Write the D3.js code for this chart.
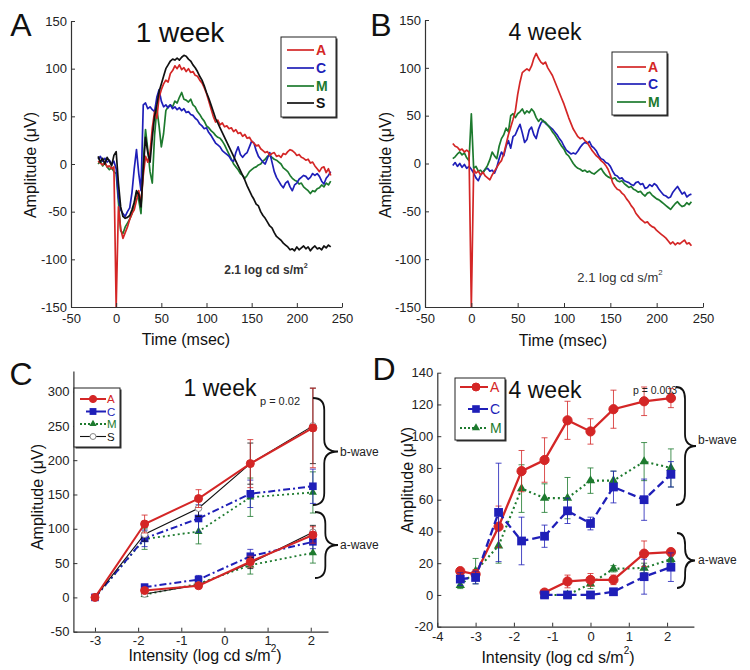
<!DOCTYPE html>
<html><head><meta charset="utf-8">
<script src="https://cdn.jsdelivr.net/npm/d3@7"></script>
<style>body{margin:0;background:#fff}svg{display:block}text{font-family:"Liberation Sans",Arial,sans-serif}</style>
</head><body><svg id="c" width="750" height="670"></svg>
<script>
// ---------- DATA ----------
// ERG traces sampled every 2.5 ms starting at -20 ms
const traceStart = -20, traceStep = 2.5;
const wk1_A = [3,1,-1,2,-3,-2,-5,-3,-150,-45,-68,-78,-72,-66,-58,-52,-48,-38,-28,-42,-12,8,2,12,38,55,48,70,78,84,88,86,95,98,103,100,104,99,101,97,100,96,97,93,92,88,85,80,74,66,58,50,44,46,41,43,39,40,37,38,34,36,32,33,29,31,27,28,24,22,19,20,16,14,12,13,9,11,12,8,9,7,11,10,13,15,14,12,9,10,7,6,4,5,1,2,-2,-5,-8,-4,-3,-9,-5,-12];
const wk1_C = [5,8,3,6,2,4,0,3,-5,-35,-48,-52,-55,-50,-46,-30,-5,15,-10,-28,62,64,58,60,57,55,70,78,66,60,62,59,62,58,60,57,59,56,58,54,55,52,51,48,46,42,40,37,38,33,30,26,22,20,18,14,12,10,8,4,3,12,18,10,7,10,12,18,24,22,14,8,5,2,0,6,12,2,-8,-14,-18,-22,-25,-20,-18,-24,-28,-22,-20,-16,-14,-12,-13,-16,-14,-10,-12,-10,-13,-18,-21,-15,-12,-8];
const wk1_M = [0,3,-2,1,-3,-6,-4,-8,-10,-40,-70,-73,-66,-62,-58,-52,-42,-30,-38,-52,2,36,15,-8,-20,30,58,40,18,32,56,60,62,60,66,64,70,75,68,67,65,68,62,60,55,52,48,45,40,38,35,33,30,28,27,24,20,15,10,5,0,-3,-6,-10,-12,-15,-12,-8,-6,-4,-3,-1,0,3,5,8,9,7,5,4,2,0,-4,-6,-8,-12,-15,-17,-18,-21,-20,-24,-26,-28,-31,-28,-29,-26,-25,-22,-24,-20,-22,-18];
const wk1_S = [8,2,6,0,7,3,-2,9,13,-20,-45,-55,-57,-56,-54,-48,-40,-28,-32,-45,-5,28,12,2,28,50,62,76,84,92,100,104,108,110,109,111,109,112,114,113,110,108,104,101,97,92,88,82,75,69,62,55,48,43,38,33,28,23,18,13,8,3,-2,-7,-12,-17,-23,-28,-33,-37,-42,-44,-50,-54,-57,-61,-65,-67,-72,-76,-78,-80,-83,-85,-87,-90,-89,-91,-87,-90,-88,-86,-89,-87,-91,-88,-86,-89,-88,-90,-86,-88,-85,-87];
const wk4_A = [21,18,17,14,15,12,14,12,-150,-6,-10,-8,-12,-9,-13,-15,-17,-12,-8,-4,0,3,10,20,30,38,46,55,72,85,95,97,99,97,102,110,115,110,106,104,106,100,96,92,86,80,74,68,62,55,48,42,36,32,28,26,27,24,22,18,14,11,8,6,3,1,-2,-6,-12,-20,-24,-27,-28,-31,-33,-37,-40,-44,-47,-52,-55,-58,-60,-62,-61,-64,-66,-67,-70,-72,-74,-76,-78,-81,-84,-82,-85,-83,-84,-82,-80,-84,-83,-86];
const wk4_C = [-2,1,-3,0,-4,-1,-5,-3,-6,-10,-15,-18,-12,-9,-6,-5,-8,-7,-10,-4,5,12,8,18,24,16,28,30,36,41,32,22,25,35,38,30,26,36,42,45,42,40,38,36,33,30,26,23,18,14,12,10,11,10,13,17,20,22,21,23,18,16,13,8,5,4,1,0,-3,-8,-12,-13,-16,-15,-18,-19,-20,-22,-23,-20,-19,-22,-21,-26,-25,-22,-24,-21,-23,-27,-30,-33,-34,-36,-35,-30,-27,-24,-28,-32,-30,-35,-33,-32];
const wk4_M = [5,7,10,12,9,11,6,3,52,-5,-3,-8,-7,-10,-6,-2,4,12,8,5,18,26,30,37,33,50,52,48,52,54,57,52,55,53,57,54,48,44,47,44,43,40,37,33,30,26,22,18,15,10,8,4,0,-3,-5,-6,-8,-7,-9,-8,-10,-11,-9,-7,-5,-9,-12,-14,-15,-16,-15,-18,-19,-18,-21,-23,-25,-24,-27,-28,-30,-29,-32,-34,-31,-30,-33,-35,-37,-38,-40,-42,-44,-46,-48,-45,-42,-40,-43,-45,-44,-41,-43,-40];

const traceXTicks = [-50,0,50,100,150,200,250];
const traceYTicks = [-150,-100,-50,0,50,100,150];

// Intensity-response, 1 week (panel C)
const intensC_b = [-3,-1.85,-0.6,0.6,2.05];
const intensC_a = [-1.85,-0.6,0.6,2.05];
const cB_A = [0,107,144,195,247], cB_A_err = [0,13,13,35,58];
const cB_C = [0,86,115,151,162],  cB_C_err = [0,12,20,20,25];
const cB_M = [0,85,96,146,153],   cB_M_err = [0,15,18,28,30];
const cB_S = [0,92,130,195,250],  cB_S_err = [0,10,12,30,55];
const cA_A = [10,17,52,91], cA_A_err = [3,3,8,12];
const cA_C = [15,26,60,81], cA_C_err = [4,6,10,10];
const cA_M = [4,20,47,65],  cA_M_err = [3,5,13,15];
const cA_S = [5,18,50,95],  cA_S_err = [3,3,8,10];
const cXTicks = [-3,-2,-1,0,1,2];
const cYTicks = [-50,0,50,100,150,200,250,300];

// Intensity-response, 4 week (panel D)
const intensD_b = [-3.4,-3.0,-2.4,-1.8,-1.2,-0.6,0,0.6,1.4,2.1];
const intensD_a = [-1.2,-0.6,0,0.6,1.4,2.1];
const dB_A = [15,13,43,78,85,110,103,117,122,124], dB_A_err = [2,3,13,13,14,12,8,12,9,6];
const dB_C = [10,11,52,34,37,53,45,68,60,76],      dB_C_err = [4,4,31,15,7,8,4,10,13,8];
const dB_M = [6,15,31,67,61,61,72,72,84,80],       dB_M_err = [2,8,11,15,9,13,8,6,12,12];
const dA_A = [1.5,8.5,9.5,9.5,26,27], dA_A_err = [1,4,4,3,8,2];
const dA_C = [0,0,0,2,11.5,17.5],     dA_C_err = [0,0,1,2,11,9];
const dA_M = [0,0,7,16.5,17,22.5],    dA_M_err = [0,0,3,2,3,2];
const dXTicks = [-4,-3,-2,-1,0,1,2];
const dYTicks = [-20,0,20,40,60,80,100,120,140];

// ---------- STYLE ----------
const COL = {A:"#d42626", C:"#1f1fb8", M:"#1d7a2e", S:"#111111"};
const svg = d3.select("#c");
const FONT = "Liberation Sans, Arial, sans-serif";
const LETTER = "Lato, DejaVu Sans, sans-serif";

function axes(g, x, y, xt, yt, xpad=4) {
  const ax = g.append("g").attr("transform",`translate(0,${y.range()[0]})`)
    .call(d3.axisBottom(x).tickValues(xt).tickSizeInner(-4).tickSizeOuter(0).tickPadding(xpad).tickFormat(d=>String(d)));
  const ay = g.append("g").attr("transform",`translate(${x.range()[0]},0)`)
    .call(d3.axisLeft(y).tickValues(yt).tickSizeInner(-4).tickSizeOuter(0).tickPadding(4).tickFormat(d=>String(d)));
  [ax,ay].forEach(a=>{
    a.selectAll("text").attr("font-size",13).attr("font-family",FONT).attr("fill","#222");
    a.select(".domain").attr("stroke","#333").attr("stroke-width",1.2);
    a.selectAll(".tick line").attr("stroke","#333");
  });
}
function text(g, x, y, s, size, opt={}) {
  const t = g.append("text").attr("x",x).attr("y",y).attr("font-size",size)
    .attr("font-family",opt.family||FONT).attr("fill",opt.fill||"#111")
    .attr("text-anchor",opt.anchor||"middle").attr("dominant-baseline","central");
  if (opt.weight) t.attr("font-weight",opt.weight);
  t.text(s);
  return t;
}
function ylabel(g,x,y){
  g.append("text").attr("x",x).attr("y",y).attr("font-size",16).attr("font-family",FONT)
    .attr("text-anchor","middle").attr("dominant-baseline","central").attr("fill","#111")
    .attr("transform",`rotate(-90,${x},${y})`).text("Amplitude (μV)");
}
function intensityLabel(g,x,y){
  const t = g.append("text").attr("x",x).attr("y",y).attr("font-size",16).attr("font-family",FONT)
    .attr("text-anchor","middle").attr("dominant-baseline","central").attr("fill","#111");
  t.append("tspan").text("Intensity (log cd s/m");
  t.append("tspan").attr("font-size",10).attr("dy",-7).text("2");
  t.append("tspan").attr("dy",7).text(")");
}
function stimLabel(g,x,y,size,weight){
  const t = g.append("text").attr("x",x).attr("y",y).attr("font-size",size).attr("font-family",FONT)
    .attr("text-anchor","middle").attr("dominant-baseline","central").attr("fill","#333");
  if (weight) t.attr("font-weight",weight);
  t.append("tspan").text("2.1 log cd s/m");
  t.append("tspan").attr("font-size",size*0.6).attr("dy",-5).text("2");
}
function legendBox(g,x,y,w,h){
  g.append("rect").attr("x",x+1.5).attr("y",y+1.5).attr("width",w).attr("height",h).attr("fill","#333");
  g.append("rect").attr("x",x).attr("y",y).attr("width",w).attr("height",h).attr("fill","#fff").attr("stroke","#222").attr("stroke-width",1);
}
function marker(g, type, cx, cy, color, s) {
  if (type==="circle") g.append("circle").attr("cx",cx).attr("cy",cy).attr("r",s).attr("fill",color).attr("stroke",color);
  else if (type==="square") g.append("rect").attr("x",cx-s).attr("y",cy-s).attr("width",2*s).attr("height",2*s).attr("fill",color);
  else if (type==="tri") g.append("path").attr("d",d3.symbol(d3.symbolTriangle).size(s*s*2.2)()).attr("transform",`translate(${cx},${cy})`).attr("fill",color);
  else if (type==="open") g.append("circle").attr("cx",cx).attr("cy",cy).attr("r",s).attr("fill","#fff").attr("stroke","#888").attr("stroke-width",1);
}
function brace(g, x, yTop, yBot, w) {
  const ym=(yTop+yBot)/2, q=Math.min(12,(yBot-yTop)/4), xm=x+w*0.45;
  const d=`M${x},${yTop} Q${xm},${yTop} ${xm},${yTop+q} L${xm},${ym-q} Q${xm},${ym} ${x+w},${ym} Q${xm},${ym} ${xm},${ym+q} L${xm},${yBot-q} Q${xm},${yBot} ${x},${yBot}`;
  g.append("path").attr("d",d).attr("fill","none").attr("stroke","#111").attr("stroke-width",1.8);
}

// ---------- TRACE PANELS ----------
function tracePanel(cfg){
  const g = svg.append("g");
  const x = d3.scaleLinear().domain([-50,250]).range(cfg.xr);
  const y = d3.scaleLinear().domain([-150,150]).range(cfg.yr);
  const line = d3.line().x((d,i)=>x(traceStart+i*traceStep)).y(d=>y(d));
  cfg.series.forEach(s=>{
    g.append("path").datum(s.v).attr("d",line).attr("fill","none").attr("stroke",COL[s.k])
      .attr("stroke-width",1.7).attr("stroke-linejoin","round");
  });
  axes(g,x,y,traceXTicks,traceYTicks,7);
  return g;
}
const gA = tracePanel({xr:[71,342], yr:[307,21], series:[{k:"M",v:wk1_M},{k:"C",v:wk1_C},{k:"A",v:wk1_A},{k:"S",v:wk1_S}]});
text(gA,21,25,"A",32,{family:LETTER});
text(gA,180,32,"1 week",28);
ylabel(gA,30,165);
text(gA,186,339,"Time (msec)",16);
stimLabel(gA,266,270,12,"bold");
legendBox(gA,281,37,55,80);
[["A",50],["C",68],["M",86],["S",103]].forEach(([k,yy])=>{
  gA.append("line").attr("x1",287).attr("x2",314).attr("y1",yy).attr("y2",yy).attr("stroke",COL[k]).attr("stroke-width",1.7);
  text(gA,316,yy,k,14,{anchor:"start",fill:COL[k],weight:"bold"});
});

const gB = tracePanel({xr:[425,703], yr:[307,20], series:[{k:"C",v:wk4_C},{k:"M",v:wk4_M},{k:"A",v:wk4_A}]});
text(gB,381,25,"B",32,{family:LETTER});
text(gB,545,32,"4 week",23);
ylabel(gB,385,165);
text(gB,563,340,"Time (msec)",16);
stimLabel(gB,620,277,13);
legendBox(gB,612,52,55,63);
[["A",67],["C",84],["M",102]].forEach(([k,yy])=>{
  gB.append("line").attr("x1",617).attr("x2",646).attr("y1",yy).attr("y2",yy).attr("stroke",COL[k]).attr("stroke-width",1.7);
  text(gB,648,yy,k,14,{anchor:"start",fill:COL[k],weight:"bold"});
});

// ---------- INTENSITY PANELS ----------
const STY = {
  A:{dash:null, w:2, m:"circle", ms:4},
  C:{dash:null, w:2, m:"square", ms:3.8},
  M:{dash:"2,3", w:1.8, m:"tri", ms:3.6},
  S:{dash:null, w:1.1, m:"open", ms:3.3}
};
function series(g,x,y,xs,vs,es,k,dash,scale=1){
  const st=STY[k], color=COL[k];
  xs.forEach((xv,i)=>{
    if(!es[i]) return;
    const px=x(xv), y1=y(vs[i]-es[i]), y2=y(vs[i]+es[i]);
    g.append("line").attr("x1",px).attr("x2",px).attr("y1",y1).attr("y2",y2).attr("stroke",color).attr("stroke-width",1).attr("opacity",0.8);
    [y1,y2].forEach(yy=>g.append("line").attr("x1",px-3).attr("x2",px+3).attr("y1",yy).attr("y2",yy).attr("stroke",color).attr("stroke-width",1).attr("opacity",0.8));
  });
  const line=d3.line().x((d,i)=>x(xs[i])).y(d=>y(d));
  const p=g.append("path").datum(vs).attr("d",line).attr("fill","none").attr("stroke",color).attr("stroke-width",st.w*scale);
  const ds = dash!==undefined?dash:st.dash;
  if(ds) p.attr("stroke-dasharray",ds);
  xs.forEach((xv,i)=>marker(g,st.m,x(xv),y(vs[i]),color,st.ms*scale));
}

// Panel C
const gC = svg.append("g");
{
  const x=d3.scaleLinear().domain([-3.5,2.4]).range([73.4,328]);
  const y=d3.scaleLinear().domain([-50,330]).range([631.7,371]);
  const dashC="7,3,2,3";
  series(gC,x,y,intensC_b,cB_M,cB_M_err,"M");
  series(gC,x,y,intensC_a,cA_M,cA_M_err,"M");
  series(gC,x,y,intensC_b,cB_C,cB_C_err,"C",dashC);
  series(gC,x,y,intensC_a,cA_C,cA_C_err,"C",dashC);
  series(gC,x,y,intensC_b,cB_S,cB_S_err,"S");
  series(gC,x,y,intensC_a,cA_S,cA_S_err,"S");
  series(gC,x,y,intensC_b,cB_A,cB_A_err,"A");
  series(gC,x,y,intensC_a,cA_A,cA_A_err,"A");
  axes(gC,x,y,cXTicks,cYTicks);
  brace(gC,313,398,505,25);
  brace(gC,315,512,578,23);
  text(gC,340,452,"b-wave",12,{anchor:"start",fill:"#222"});
  text(gC,340,545,"a-wave",12,{anchor:"start",fill:"#222"});
  text(gC,280,401,"p = 0.02",11,{fill:"#222"});
}
text(gC,21,374,"C",32,{family:LETTER});
text(gC,220,388,"1 week",23);
ylabel(gC,37,497);
intensityLabel(gC,205,655);
legendBox(gC,74,388,46,59);
[["A",399],["C",411.5],["M",424],["S",436.5]].forEach(([k,yy])=>{
  const l=gC.append("line").attr("x1",80).attr("x2",106).attr("y1",yy).attr("y2",yy).attr("stroke",COL[k]).attr("stroke-width",STY[k].w);
  if(k==="M") l.attr("stroke-dasharray","2,2");
  if(k==="C") l.attr("x1",86);
  marker(gC,STY[k].m,93,yy,COL[k],STY[k].ms*0.9);
  text(gC,107,yy,k,11.5,{anchor:"start",fill:COL[k]});
});

// Panel D
const gD = svg.append("g");
{
  const x=d3.scaleLinear().domain([-4,2.7]).range([437.3,693.9]);
  const y=d3.scaleLinear().domain([-20,140]).range([626.7,372.7]);
  const dashD="8,4";
  series(gD,x,y,intensD_b,dB_M,dB_M_err,"M",undefined,1.15);
  series(gD,x,y,intensD_a,dA_M,dA_M_err,"M",undefined,1.15);
  series(gD,x,y,intensD_b,dB_A,dB_A_err,"A",undefined,1.15);
  series(gD,x,y,intensD_a,dA_A,dA_A_err,"A",undefined,1.15);
  series(gD,x,y,intensD_b,dB_C,dB_C_err,"C",dashD,1.15);
  series(gD,x,y,intensD_a,dA_C,dA_C_err,"C",dashD,1.15);
  axes(gD,x,y,dXTicks,dYTicks,5);
  brace(gD,676,387,505,20);
  brace(gD,677,533,588,18);
  text(gD,698,440,"b-wave",12,{anchor:"start",fill:"#222"});
  text(gD,698,560,"a-wave",12,{anchor:"start",fill:"#222"});
  text(gD,655,390,"p = 0.003",10.5,{fill:"#222"});
}
text(gD,384,369,"D",32,{family:LETTER});
text(gD,545,390,"4 week",23);
ylabel(gD,407,480);
intensityLabel(gD,558,657);
legendBox(gD,455,378,50,62);
[["A",387],["C",409],["M",428]].forEach(([k,yy])=>{
  const l=gD.append("line").attr("x1",460).attr("x2",488).attr("y1",yy).attr("y2",yy).attr("stroke",COL[k]).attr("stroke-width",STY[k].w);
  if(k==="M") l.attr("stroke-dasharray","2,2");
  if(k==="C") l.attr("x1",468);
  marker(gD,STY[k].m,476,yy,COL[k],STY[k].ms);
  text(gD,490,yy,k,14,{anchor:"start",fill:COL[k]});
});
</script></body></html>
